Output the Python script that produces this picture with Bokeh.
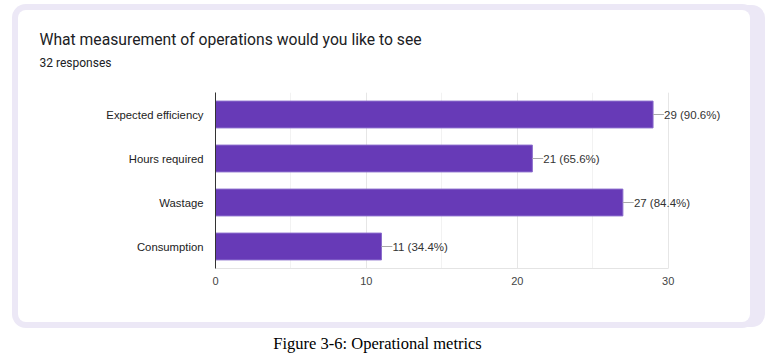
from bokeh.plotting import figure
from bokeh.layouts import column
from bokeh.models import (ColumnDataSource, LabelSet, Title,
                          SingleIntervalTicker, FactorRange)
from bokeh.core.properties import value
from bokeh.embed import file_html
from bokeh.resources import INLINE

categories = ["Expected efficiency", "Hours required", "Wastage", "Consumption"]
counts = [29, 21, 27, 11]
total = 32
x_ticks_interval = 10
x_max = 30
chart_title = "What measurement of operations would you like to see"
subtitle = "32 responses"
caption = "Figure 3-6: Operational metrics"

labels = [f"{c} ({c / total * 100:.1f}%)" for c in counts]

LAV = "#ece8f6"
p = figure(width=732, height=312, output_backend="svg", toolbar_location=None,
           y_range=FactorRange(*reversed(categories)), x_range=(0, 34),
           min_border_left=197, min_border_right=22, min_border_top=82,
           min_border_bottom=54, title=chart_title)
p.margin = (10, 0, 0, 18)
p.border_fill_color = None
p.background_fill_color = "white"
p.outline_line_color = None
p.styles = {"background-color": "white", "border-radius": "8px",
            "box-shadow": f"0 0 0 6px {LAV}, 10px 0 0 5px {LAV}"}

p.title.text_font = "Roboto"
p.title.text_font_size = "15.7px"
p.title.text_font_style = "normal"
p.title.text_color = "#202124"
p.title.align = "left"
p.title.offset = -176
p.title.standoff = 7
# empty spacer between plot area and subtitle (nearest the plot area)
p.add_layout(Title(text=" ", text_font_size="10px", standoff=9), "above")
p.add_layout(Title(text=subtitle, text_font="Roboto", text_font_size="12px",
                   text_font_style="normal", text_color="#202124", align="left",
                   offset=-176, standoff=2), "above")

src = ColumnDataSource(dict(cat=categories, v=counts, lab=labels,
                            x1=[c + 0.72 for c in counts]))
p.hbar(y="cat", right="v", left=0, height=0.61, source=src,
       fill_color="#673ab7", line_color="#8a6ccc", line_width=1)
p.segment(x0="v", y0="cat", x1="x1", y1="cat", source=src,
          line_color="#aaaaaa", line_width=1.2)
p.add_layout(LabelSet(x="v", y="cat", text="lab", source=src, x_offset=11,
                      text_baseline="middle", text_font=value("Liberation Sans"),
                      text_font_size="11.5px", text_color="#333333"))

p.xaxis.ticker = SingleIntervalTicker(interval=x_ticks_interval, num_minor_ticks=2)
p.xaxis.bounds = (0, x_max)
p.xaxis.major_tick_line_color = None
p.xaxis.minor_tick_line_color = None
p.xaxis.axis_line_color = "#e4e4e4"
p.xaxis.major_label_text_font = "Liberation Sans"
p.xaxis.major_label_text_font_size = "11px"
p.xaxis.major_label_text_color = "#444444"
p.xaxis.major_label_standoff = 2

p.yaxis.major_tick_line_color = None
p.yaxis.minor_tick_line_color = None
p.yaxis.axis_line_color = "#333333"
p.yaxis.major_label_text_font = "Liberation Sans"
p.yaxis.major_label_text_font_size = "11.3px"
p.yaxis.major_label_text_color = "#222222"
p.yaxis.major_label_standoff = 6

p.ygrid.grid_line_color = None
p.xgrid.grid_line_color = "#e6e6e6"
p.xgrid.minor_grid_line_color = "#f2f2f2"

# caption (its plot frame is aligned with the chart's frame by the column)
c = figure(width=732, height=22, output_backend="svg", toolbar_location=None,
           x_range=p.x_range, y_range=(0, 1), min_border=0)
c.margin = (10, 0, 0, 18)
c.axis.visible = False
c.grid.grid_line_color = None
c.outline_line_color = None
c.border_fill_color = None
c.background_fill_color = None
c.text(x=[10.74], y=[0.5], text=[caption], text_font=value("Liberation Serif"),
       text_font_size="16.5px", text_color="#000000", text_baseline="middle",
       text_align="center")

layout = column(p, c)
open("out.html", "w").write(file_html(layout, INLINE))
